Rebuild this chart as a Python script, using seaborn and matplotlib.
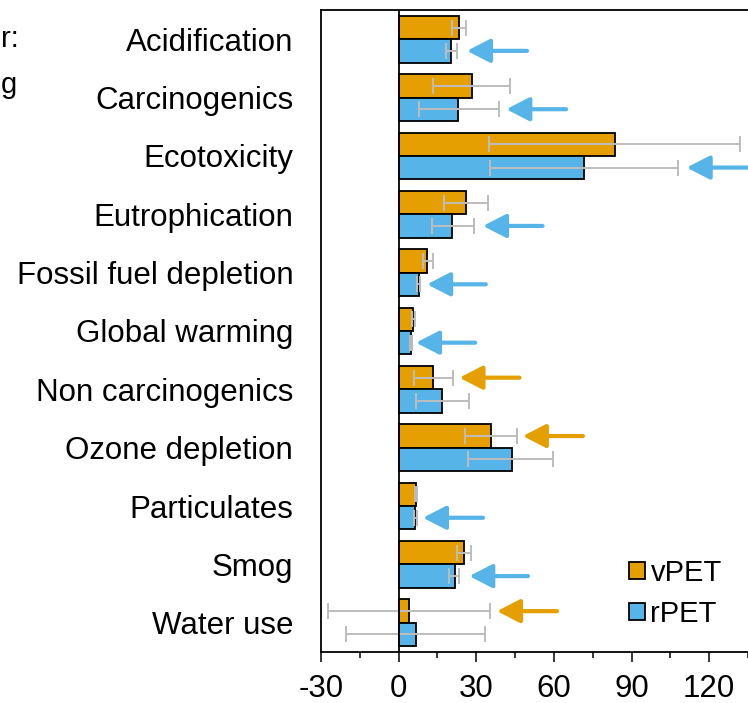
import seaborn as sns
import matplotlib.pyplot as plt
import pandas as pd
from matplotlib.ticker import MultipleLocator

# Impact categories and normalised scores
categories = ["Acidification", "Carcinogenics", "Ecotoxicity", "Eutrophication",
              "Fossil fuel depletion", "Global warming", "Non carcinogenics",
              "Ozone depletion", "Particulates", "Smog", "Water use"]
series = ["vPET", "rPET"]

vpet = [23.5, 28.2, 83.5, 26.0, 11.1, 5.7, 13.4, 35.7, 6.6, 25.3, 4.0]
vpet_low = [20.8, 13.4, 35.0, 17.6, 9.6, 5.2, 5.9, 25.6, 6.2, 22.7, -27.4]
vpet_high = [26.0, 42.9, 131.8, 34.6, 13.1, 6.3, 21.2, 45.7, 7.2, 27.9, 35.4]

rpet = [20.4, 23.0, 71.8, 20.8, 7.9, 4.6, 16.9, 43.7, 6.5, 21.7, 6.6]
rpet_low = [18.3, 7.8, 35.4, 12.8, 7.2, 4.3, 6.6, 26.9, 6.0, 19.5, -20.3]
rpet_high = [22.7, 38.8, 108.0, 29.0, 8.3, 5.0, 27.2, 59.8, 7.2, 23.5, 33.3]

# Highlight arrows: which series, where the tip and tail sit
arrow_series = ["rPET", "rPET", "rPET", "rPET", "rPET", "rPET",
                "vPET", "vPET", "rPET", "rPET", "vPET"]
arrow_tip = [26.4, 41.6, 111.3, 32.6, 11.0, 6.7, 23.5, 48.0, 9.4, 27.3, 38.0]
arrow_tail = [49.6, 64.7, 140.0, 55.6, 33.7, 29.6, 46.7, 71.2, 32.6, 50.0, 61.2]

colors = {"vPET": "#E69F00", "rPET": "#56B4E9"}

df = pd.DataFrame({
    "category": categories * 2,
    "series": ["vPET"] * len(categories) + ["rPET"] * len(categories),
    "value": vpet + rpet,
})

sns.set_style("white")
plt.rcParams["font.family"] = ["Liberation Sans", "DejaVu Sans"]
plt.rcParams["text.color"] = "black"
plt.rcParams["xtick.color"] = "black"
plt.rcParams["ytick.color"] = "black"
plt.rcParams["axes.unicode_minus"] = False

fig = plt.figure(figsize=(7.48, 7.03), dpi=100)
ax = fig.add_axes([321 / 748, 1 - 652 / 703, 1 - 321 / 748, 642 / 703])

sns.barplot(data=df, y="category", x="value", hue="series", order=categories,
            hue_order=series, palette=colors, saturation=1, orient="h",
            errorbar=None, edgecolor="black", linewidth=1.3, width=0.8,
            ax=ax, zorder=2)

# Error bars, placed on the bar centres that seaborn computed
err = {"vPET": (vpet, vpet_low, vpet_high), "rPET": (rpet, rpet_low, rpet_high)}
centres = {}
for s, cont in zip(series, ax.containers):
    vals, lo, hi = err[s]
    ys = [p.get_y() + p.get_height() / 2 for p in cont.patches]
    centres[s] = ys
    ax.errorbar(vals, ys,
                xerr=[[v - l for v, l in zip(vals, lo)], [h - v for v, h in zip(vals, hi)]],
                fmt="none", ecolor="#BDBDBD", elinewidth=1.4, capsize=5.5,
                capthick=1.4, zorder=3)

# Arrows
for i, s in enumerate(arrow_series):
    y = centres[s][i]
    ax.annotate("", xy=(arrow_tip[i], y), xytext=(arrow_tail[i], y),
                arrowprops=dict(arrowstyle="-|>,head_length=14,head_width=7.2",
                                mutation_scale=1, color=colors[s], lw=3,
                                shrinkA=0, shrinkB=0),
                annotation_clip=False, zorder=4)

ax.axvline(0, color="black", lw=1.3, zorder=5)

ax.set_xlim(-30, 135)
ax.set_ylim(10.5, -0.5)
ax.xaxis.set_major_locator(MultipleLocator(30))
ax.xaxis.set_minor_locator(MultipleLocator(15))
ax.tick_params(axis="x", which="major", direction="out", length=7, width=1.1,
               labelsize=22.5, pad=9, bottom=True)
ax.tick_params(axis="x", which="minor", direction="out", length=4.5, width=1.1,
               bottom=True)
ax.tick_params(axis="y", length=0, labelsize=22.5, pad=20)
ax.set_xlabel("")
ax.set_ylabel("")

for side in ["left", "top", "bottom"]:
    ax.spines[side].set_color("black")
    ax.spines[side].set_linewidth(1.3)
ax.spines["right"].set_visible(False)

ax.legend(loc="lower right", bbox_to_anchor=(1.0, -0.004), frameon=False,
          fontsize=21, handlelength=0.52, handleheight=0.52,
          handletextpad=0.2, labelspacing=0.45)

# Fragments of text cropped from a neighbouring panel
fig.text(0.001, 1 - 47 / 703, "r:", fontsize=21, va="baseline", ha="left")
fig.text(0.001, 1 - 93 / 703, "g", fontsize=21, va="baseline", ha="left")

fig.savefig("out.png", dpi=100)
